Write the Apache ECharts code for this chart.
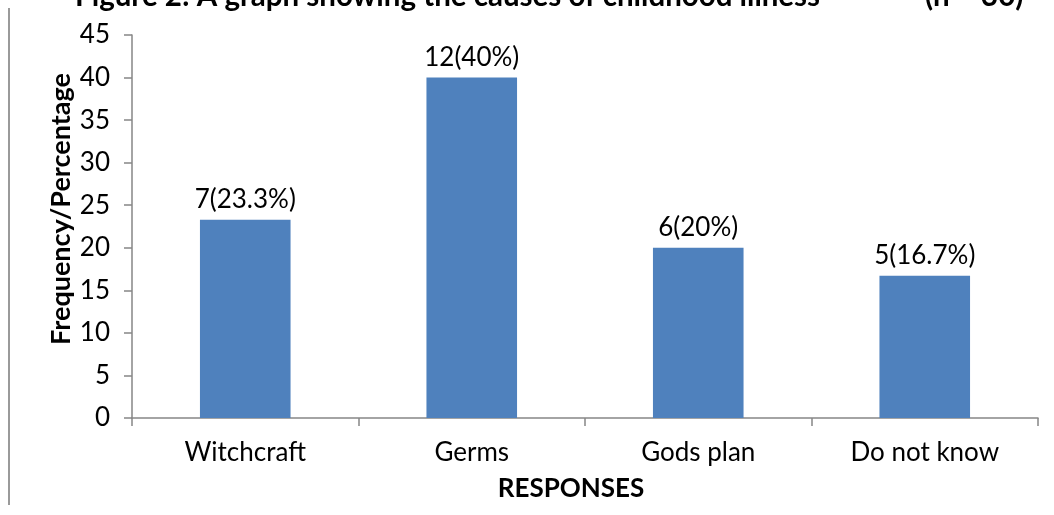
<!DOCTYPE html>
<html>
<head>
<meta charset="utf-8">
<script src="https://cdn.jsdelivr.net/npm/echarts@6/dist/echarts.min.js"></script>
<style>
  html, body { margin: 0; padding: 0; background: #fff; }
  #chart { width: 1054px; height: 515px; }
</style>
</head>
<body>
<div id="chart"></div>
<script>
// Causes of childhood illness reported by respondents (n = 30)
const categories = ['Witchcraft', 'Germs', 'Gods plan', 'Do not know'];
const percentages = [23.3, 40, 20, 16.7];
const frequencies = [7, 12, 6, 5];
const yTicks = { min: 0, max: 45, interval: 5 };

const FONT = 'Lato, "Open Sans", sans-serif';

const chart = echarts.init(document.getElementById('chart'), null, { renderer: 'canvas' });

chart.setOption({
  animation: false,
  backgroundColor: '#ffffff',
  grid: { left: 132, right: 16, top: 35, bottom: 97, containLabel: false },
  xAxis: {
    type: 'category',
    data: categories,
    axisLine: { lineStyle: { color: '#868686', width: 1.5 } },
    axisTick: { show: true, length: 8, inside: false, alignWithLabel: false, lineStyle: { color: '#868686', width: 1.5 } },
    axisLabel: { color: '#000', fontSize: 26, fontFamily: FONT, margin: 22 }
  },
  yAxis: {
    type: 'value',
    min: yTicks.min,
    max: yTicks.max,
    interval: yTicks.interval,
    splitLine: { show: false },
    axisLine: { show: true, lineStyle: { color: '#868686', width: 1.5 } },
    axisTick: { show: true, length: 8, lineStyle: { color: '#868686', width: 1.5 } },
    axisLabel: { color: '#000', fontSize: 26, fontFamily: FONT, margin: 22 }
  },
  graphic: [
    {
      type: 'text', left: 75, top: -19,
      style: { text: 'Figure 2: A graph showing the causes of childhood illness', fill: '#000', font: 'bold 29.5px ' + FONT }
    },
    {
      type: 'text', left: 925, top: -19,
      style: { text: '(n = 30)', fill: '#000', font: 'bold 29.5px ' + FONT }
    },
    {
      type: 'text', x: 61, y: 209, rotation: Math.PI / 2,
      style: { text: 'Frequency/Percentage', fill: '#000', font: 'bold 27px ' + FONT, align: 'center', verticalAlign: 'middle' }
    },
    {
      type: 'text', x: 571, y: 489,
      style: { text: 'RESPONSES', fill: '#000', font: 'bold 26px ' + FONT, align: 'center', verticalAlign: 'middle' }
    },
    {
      type: 'line', shape: { x1: 9, y1: 8, x2: 9, y2: 505 },
      style: { stroke: '#9a9a9a', lineWidth: 2 }
    }
  ],
  series: [{
    type: 'bar',
    data: percentages,
    barWidth: '40%',
    itemStyle: { color: '#4F81BD' },
    label: {
      show: true,
      position: 'top',
      distance: 7,
      color: '#000',
      fontSize: 26,
      fontFamily: FONT,
      formatter: p => frequencies[p.dataIndex] + '(' + percentages[p.dataIndex] + '%)'
    }
  }]
});
</script>
</body>
</html>
